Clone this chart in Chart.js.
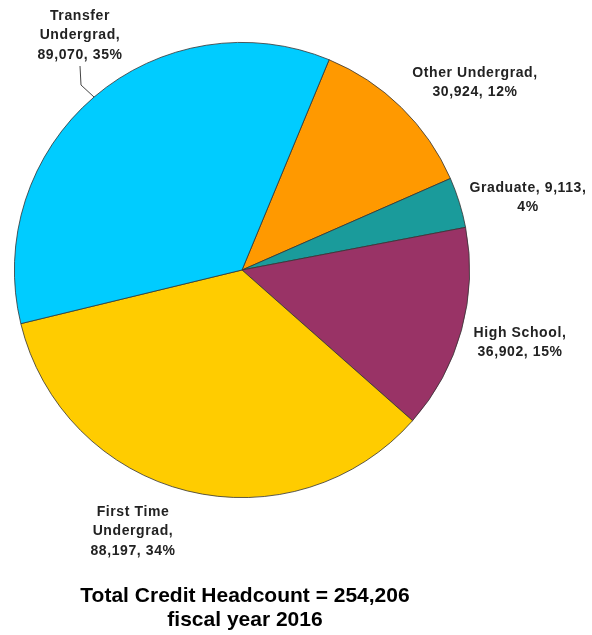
<!DOCTYPE html>
<html>
<head>
<meta charset="utf-8">
<script src="https://cdn.jsdelivr.net/npm/chart.js@4"></script>
<style>
	html,body{margin:0;padding:0;background:#fff}
	#wrap{width:592px;height:635px;position:relative}
</style>
</head>
<body>
<div id="wrap"><canvas id="chart" width="592" height="635"></canvas></div>
<script>
// categories in drawing order (clockwise, starting at the top-right edge of Transfer)
const categories = ['Other Undergrad', 'Graduate', 'High School', 'First Time Undergrad', 'Transfer Undergrad']
const headcount = [30924, 9113, 36902, 88197, 89070]
const pctLabels = ['12%', '4%', '15%', '34%', '35%']
const totalHeadcount = 254206
const fiscalYear = 2016

const colors = ['#ff9900', '#1a9b9b', '#993366', '#ffcc00', '#00ccff']

// label text lines per slice, built from the data
const fmt = n => n.toLocaleString('en-US')
const labelLines = [
	['Other Undergrad,', fmt(headcount[0]) + ', ' + pctLabels[0]],
	['Graduate, ' + fmt(headcount[1]) + ',', pctLabels[1]],
	['High School,', fmt(headcount[2]) + ', ' + pctLabels[2]],
	['First Time', 'Undergrad,', fmt(headcount[3]) + ', ' + pctLabels[3]],
	['Transfer', 'Undergrad,', fmt(headcount[4]) + ', ' + pctLabels[4]]
]
// where each label block sits (center x, middle y of first line)
const labelPos = [[475, 73], [528, 188], [520, 333], [133, 512], [80, 16]]

const sliceLabels = {
	id: 'sliceLabels',
	afterDraw(chart){
		const ctx = chart.ctx
		ctx.save()
		ctx.fillStyle = '#222'
		ctx.font = 'bold 14px "Liberation Sans", Arial, sans-serif'
		ctx.letterSpacing = '0.6px'
		ctx.textAlign = 'center'
		ctx.textBaseline = 'middle'
		labelLines.forEach((lines, i) => {
			const [x, y] = labelPos[i]
			lines.forEach((t, j) => ctx.fillText(t, x, y + j * 19.5))
		})
		// leader line for Transfer label
		ctx.strokeStyle = '#444'; ctx.lineWidth = 1
		ctx.beginPath(); ctx.moveTo(80, 66); ctx.lineTo(81, 85); ctx.lineTo(94, 97); ctx.stroke()
		// footer
		ctx.fillStyle = '#000'
		ctx.letterSpacing = '0px'
		ctx.font = 'bold 21px "Liberation Sans", Arial, sans-serif'
		ctx.fillText('Total Credit Headcount = ' + fmt(totalHeadcount), 245, 596)
		ctx.fillText('fiscal year ' + fiscalYear, 245, 620)
		ctx.restore()
	}
}

new Chart(document.getElementById('chart').getContext('2d'), {
	type: 'pie',
	data: { labels: categories, datasets: [{ data: headcount, backgroundColor: colors, borderColor: '#333', borderWidth: 0.8 }] },
	options: {
		responsive: false, animation: false, rotation: 22.5,
		layout: { padding: { left: 14, right: 122, top: 42, bottom: 137 } },
		plugins: { legend: { display: false }, tooltip: { enabled: false } }
	},
	plugins: [sliceLabels]
})
</script>
</body>
</html>
